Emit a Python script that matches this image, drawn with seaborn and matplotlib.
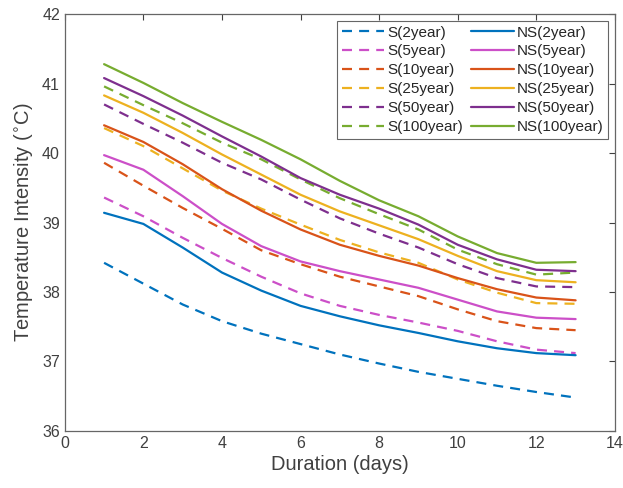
import matplotlib
matplotlib.use("Agg")
import matplotlib.pyplot as plt
import seaborn as sns

# Duration (days)
days = [1, 2, 3, 4, 5, 6, 7, 8, 9, 10, 11, 12, 13]

# stationary (S) curves, temperature intensity in degC
s_2 = [38.42, 38.12, 37.82, 37.58, 37.40, 37.25, 37.10, 36.97, 36.85, 36.75, 36.65, 36.56, 36.48]
s_5 = [39.36, 39.09, 38.78, 38.49, 38.22, 37.98, 37.80, 37.67, 37.56, 37.44, 37.29, 37.17, 37.12]
s_10 = [39.86, 39.53, 39.21, 38.91, 38.60, 38.40, 38.22, 38.08, 37.94, 37.75, 37.58, 37.48, 37.45]
s_25 = [40.36, 40.10, 39.78, 39.46, 39.20, 38.97, 38.75, 38.57, 38.42, 38.18, 37.99, 37.84, 37.83]
s_50 = [40.70, 40.42, 40.15, 39.86, 39.62, 39.33, 39.06, 38.84, 38.64, 38.40, 38.20, 38.08, 38.07]
s_100 = [40.96, 40.69, 40.43, 40.15, 39.91, 39.62, 39.35, 39.12, 38.90, 38.61, 38.40, 38.25, 38.28]

# non-stationary (NS) curves
ns_2 = [39.14, 38.98, 38.64, 38.28, 38.02, 37.80, 37.65, 37.52, 37.41, 37.29, 37.19, 37.12, 37.09]
ns_5 = [39.97, 39.76, 39.38, 38.98, 38.66, 38.44, 38.30, 38.18, 38.06, 37.89, 37.72, 37.63, 37.61]
ns_10 = [40.40, 40.16, 39.84, 39.48, 39.17, 38.90, 38.68, 38.52, 38.38, 38.20, 38.04, 37.92, 37.88]
ns_25 = [40.83, 40.58, 40.29, 39.98, 39.69, 39.40, 39.16, 38.96, 38.76, 38.52, 38.30, 38.17, 38.14]
ns_50 = [41.08, 40.82, 40.54, 40.24, 39.95, 39.64, 39.40, 39.20, 38.97, 38.68, 38.47, 38.32, 38.30]
ns_100 = [41.28, 41.01, 40.72, 40.45, 40.19, 39.91, 39.60, 39.32, 39.09, 38.80, 38.56, 38.42, 38.43]

periods = ["2year", "5year", "10year", "25year", "50year", "100year"]
s_series = [s_2, s_5, s_10, s_25, s_50, s_100]
ns_series = [ns_2, ns_5, ns_10, ns_25, ns_50, ns_100]
colors = ["#0072BD", "#CC4FC8", "#D95319", "#EDB120", "#7E2F8E", "#77AC30"]

sns.set_style("white")
plt.rcParams["font.family"] = ["Liberation Sans", "DejaVu Sans"]
plt.rcParams["lines.dashed_pattern"] = [4.5, 3.2]
axis_col = "#404040"

fig = plt.figure(figsize=(6.23, 4.88), dpi=100)
ax = fig.add_axes([0.104, 0.117, 0.883, 0.854])

for p, vals, c in zip(periods, s_series, colors):
    sns.lineplot(x=days, y=vals, ax=ax, color=c, linestyle="--", linewidth=1.6,
                 label=f"S({p})")
for p, vals, c in zip(periods, ns_series, colors):
    sns.lineplot(x=days, y=vals, ax=ax, color=c, linestyle="-", linewidth=1.6,
                 label=f"NS({p})")

ax.set_xlim(0, 14)
ax.set_ylim(36, 42)
ax.set_xticks(range(0, 15, 2))
ax.set_yticks(range(36, 43))
ax.set_xlabel("Duration (days)", fontsize=14.5, color=axis_col, labelpad=3)
ax.set_ylabel("Temperature Intensity ($^{\\circ}$C)", fontsize=14.5, color=axis_col,
              labelpad=5)
ax.tick_params(direction="in", length=4, width=0.8, colors=axis_col,
               labelsize=11.5, top=True, right=True, labelcolor=axis_col)
for sp in ax.spines.values():
    sp.set_color("#666666")
    sp.set_linewidth(0.9)

leg = ax.legend(ncol=2, loc="upper right", fontsize=11, frameon=True,
                fancybox=False, framealpha=1, edgecolor="#666666",
                handlelength=2.8, handletextpad=0.2, columnspacing=0.5,
                labelspacing=0.32, borderpad=0.3, borderaxespad=0.45)
leg.get_frame().set_linewidth(0.8)
for t in leg.get_texts():
    t.set_color("#262626")

fig.savefig("out.png", dpi=100)
